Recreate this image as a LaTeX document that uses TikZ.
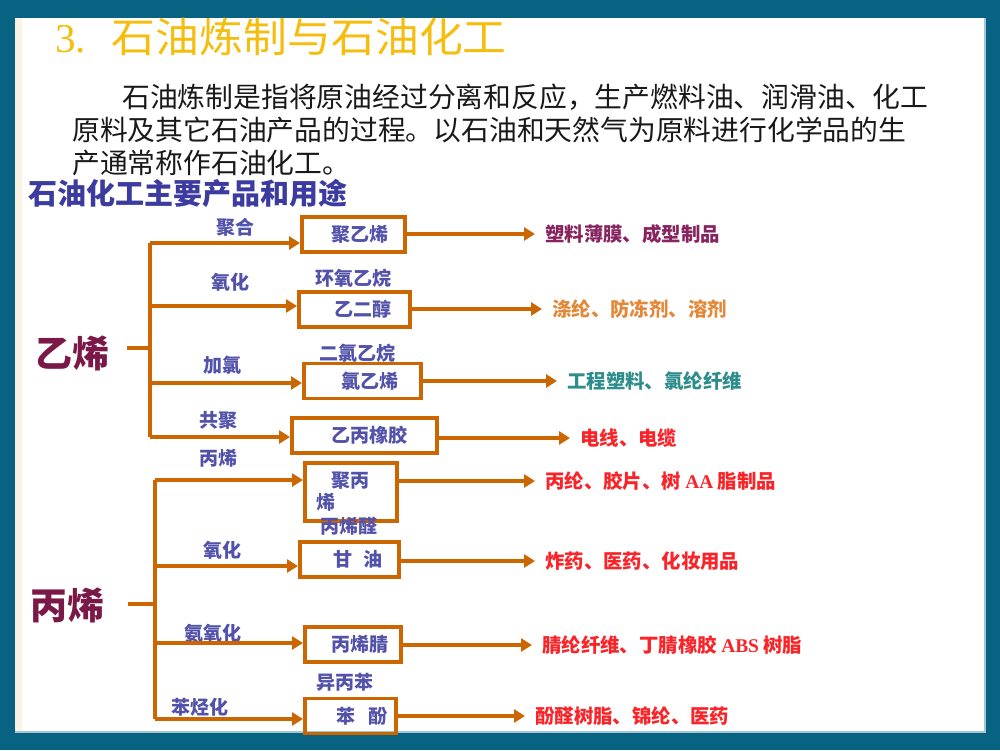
\documentclass[tikz,border=0pt]{standalone}
\usepackage{fontspec}
\usepackage{graphicx}
\setmainfont{Noto Sans CJK SC}
\newfontfamily\tnr{Liberation Serif}
\usetikzlibrary{arrows.meta}
\definecolor{frameteal}{RGB}{8,98,130}
\definecolor{creamstrip}{RGB}{250,243,228}
\definecolor{edgeblue}{RGB}{160,200,215}
\definecolor{titlegold}{RGB}{245,190,15}
\definecolor{bodyink}{RGB}{25,25,25}
\definecolor{subblue}{RGB}{60,60,160}
\definecolor{orangeline}{RGB}{204,102,0}
\definecolor{labelblue}{RGB}{82,82,170}
\definecolor{feedmaroon}{RGB}{122,24,72}
\definecolor{outpurple}{RGB}{135,35,95}
\definecolor{outorange}{RGB}{228,135,55}
\definecolor{outteal}{RGB}{45,140,140}
\definecolor{outred}{RGB}{250,35,40}
\begin{document}
\begin{tikzpicture}[x=1pt,y=-1pt,
  conn/.style={draw=orangeline, line width=4pt},
  arr/.style={conn, -{Triangle[length=11pt,width=13pt]}},
  procbox/.style={draw=orangeline, line width=3.5pt, inner xsep=0pt, inner ysep=0pt, anchor=west, minimum height=35pt, align=left, font=\fontsize{19}{22}\selectfont\bfseries, text=labelblue},
  steplabel/.style={font=\fontsize{19}{22}\selectfont\bfseries, text=labelblue, inner sep=0pt},
  outtext/.style={anchor=west, inner xsep=10pt, inner ysep=0pt, font=\fontsize{19.4}{22}\selectfont\bfseries},
  feed/.style={anchor=west, font=\fontsize{37}{40}\selectfont\bfseries, text=feedmaroon, inner sep=0pt}
]
\useasboundingbox (0,0) rectangle (1000,750);
% frame
\fill[frameteal] (0,0) rectangle (1000,750);
\fill[white] (15,18) rectangle (985,732);
\fill[creamstrip] (15,18) rectangle (22,732);
\draw[edgeblue, line width=1.5pt] (15,732) -- (985,732) -- (985,18);

% title and text
\node[anchor=west, inner sep=0pt, text=titlegold] (title) at (55,37)
  {\fontsize{41}{44}\selectfont{\tnr 3.}\hspace{26pt}\scalebox{1.07}[1]{石油炼制与石油化工}};
\node[anchor=west, align=left, inner sep=0pt, text=bodyink, font=\fontsize{27.8}{33}\selectfont] (para) at (72,130)
  {\hspace*{50pt}石油炼制是指将原油经过分离和反应，生产燃料油、润滑油、化工\\
   原料及其它石油产品的过程。以石油和天然气为原料进行化学品的生\\
   产通常称作石油化工。};
\node[anchor=west, inner sep=0pt, text=subblue, font=\fontsize{29}{32}\selectfont\bfseries] (sub) at (28,193) {石油化工主要产品和用途};

% feeds
\node[feed] (ethylene) at (35,353) {乙烯};
\node[feed] (propylene) at (30,605) {丙烯};

% ethylene boxes
\node[procbox, text width=103pt] (E1) at (300,234.5) {\hspace*{30pt}聚乙烯};
\node[procbox, text width=111pt] (E2) at (297,309.5) {\hspace*{36pt}乙二醇};
\node[procbox, text width=117pt] (E3) at (302,381) {\hspace*{38pt}氯乙烯};
\node[procbox, text width=145pt] (E4) at (290,435.5) {\hspace*{40pt}乙丙橡胶};

% propylene boxes
\node[procbox, text width=92pt, minimum height=58pt] (P1) at (303,492) {\hspace*{27pt}聚丙\\\hspace*{12pt}烯};
\node[procbox, text width=99pt] (P2) at (298,559.5) {\hspace*{34pt}甘\hspace{11pt}油};
\node[procbox, text width=96pt] (P3) at (303,644.5) {\hspace*{27pt}丙烯腈};
\node[procbox, text width=91pt] (P4) at (303,716) {\hspace*{32pt}苯\hspace{13pt}酚};

% step labels
\node[steplabel] (s1) at (235,227) {聚合};
\node[steplabel] (s2) at (230,282) {氧化};
\node[steplabel] (s2b) at (353,278) {环氧乙烷};
\node[steplabel] (s3) at (222,365) {加氯};
\node[steplabel] (s3b) at (357,353) {二氯乙烷};
\node[steplabel] (s4) at (218,420) {共聚};
\node[steplabel] (s4b) at (218,458) {丙烯};
\node[steplabel] (s5b) at (349,526) {丙烯醛};
\node[steplabel] (s6) at (222,550) {氧化};
\node[steplabel] (s7) at (213,633) {氨氧化};
\node[steplabel] (s8b) at (345,682) {异丙苯};
\node[steplabel] (s8) at (200,707) {苯烃化};

% ethylene tree
\coordinate (estub) at (127,348);
\coordinate (ej) at (150,348);
\coordinate (eb1) at (150,243);
\coordinate (eb2) at (150,306);
\coordinate (eb3) at (150,383);
\coordinate (eb4) at (150,437);
\draw[conn] (estub) -- (ej);
\draw[conn] (eb1) -- (eb4);
\draw[arr] (eb1) -- (eb1 -| E1.west);
\draw[arr] (eb2) -- (eb2 -| E2.west);
\draw[arr] (eb3) -- (eb3 -| E3.west);
\draw[arr] (eb4) -- (eb4 -| E4.west);

% propylene tree
\coordinate (pstub) at (128,604);
\coordinate (pj) at (155,604);
\coordinate (pb1) at (155,480);
\coordinate (pb2) at (155,566);
\coordinate (pb3) at (155,643);
\coordinate (pb4) at (155,719);
\draw[conn] (pstub) -- (pj);
\draw[conn] (pb1) -- (pb4);
\draw[arr] (pb1) -- (pb1 -| P1.west);
\draw[arr] (pb2) -- (pb2 -| P2.west);
\draw[arr] (pb3) -- (pb3 -| P3.west);
\draw[arr] (pb4) -- (pb4 -| P4.west);

% outputs
\node[outtext, text=outpurple] (O1) at (535,234) {塑料薄膜、成型制品};
\node[outtext, text=outorange] (O2) at (542,309) {涤纶、防冻剂、溶剂};
\node[outtext, text=outteal] (O3) at (557,381) {工程塑料、氯纶纤维};
\node[outtext, text=outred] (O4) at (570,438) {电线、电缆};
\node[outtext, text=outred] (O5) at (535,481) {丙纶、胶片、树 {\tnr AA} 脂制品};
\node[outtext, text=outred] (O6) at (535,561) {炸药、医药、化妆用品};
\node[outtext, text=outred] (O7) at (532,645) {腈纶纤维、丁腈橡胶 {\tnr ABS} 树脂};
\node[outtext, text=outred] (O8) at (525,716) {酚醛树脂、锦纶、医药};

\draw[arr] (E1.east |- O1.west) -- (O1.west);
\draw[arr] (E2.east |- O2.west) -- (O2.west);
\draw[arr] (E3.east |- O3.west) -- (O3.west);
\draw[arr] (E4.east |- O4.west) -- (O4.west);
\draw[arr] (P1.east |- O5.west) -- (O5.west);
\draw[arr] (P2.east |- O6.west) -- (O6.west);
\draw[arr] (P3.east |- O7.west) -- (O7.west);
\draw[arr] (P4.east |- O8.west) -- (O8.west);
\end{tikzpicture}
\end{document}
